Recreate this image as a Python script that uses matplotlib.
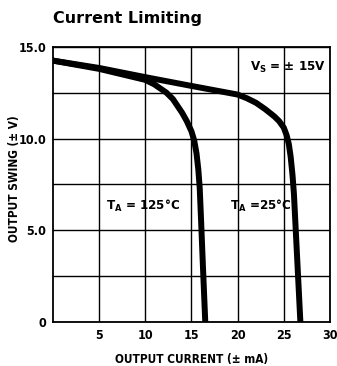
import numpy as np
import matplotlib.pyplot as plt

# curve data
i_125 = [0, 5, 10, 11, 12.3, 13, 14, 14.5, 15, 15.3, 15.55, 15.75, 15.9, 16.05, 16.25, 16.5]
v_125 = [14.25, 13.8, 13.2, 12.95, 12.5, 12.15, 11.4, 10.95, 10.4, 9.9, 9.2, 8.3, 7.3, 5.5, 3.0, 0]

i_25 = [0, 5, 10, 15, 20, 21, 22, 23, 24, 24.5, 25, 25.3, 25.55, 25.75, 25.95, 26.1, 26.3, 26.55, 26.8]
v_25 = [14.25, 13.85, 13.35, 12.87, 12.4, 12.2, 11.95, 11.6, 11.2, 10.95, 10.6, 10.2, 9.7, 9.0, 8.0, 7.0, 5.0, 2.5, 0]

xticks = [5, 10, 15, 20, 25, 30]
yticks = [0, 5, 10, 15]
ytick_labels = ["0", "5.0", "10.0", "15.0"]

cond = dict(family='DejaVu Sans', stretch='condensed', fontweight='bold')

fig = plt.figure(figsize=(3.37, 3.66), dpi=100)
ax = fig.add_axes([0.157, 0.120, 0.822, 0.752])

ax.plot(i_125, v_125, color='black', lw=4.3, solid_joinstyle='round')
ax.plot(i_25, v_25, color='black', lw=4.3, solid_joinstyle='round')

ax.set_xlim(0, 30)
ax.set_ylim(0, 15)
ax.set_xticks(xticks)
ax.set_yticks(yticks)
ax.set_yticklabels(ytick_labels)
ax.set_yticks(np.arange(0, 15, 2.5), minor=True)
ax.grid(True, which='both', color='black', lw=1.0)
ax.tick_params(which='both', length=0, pad=5)
for lab in ax.get_xticklabels() + ax.get_yticklabels():
    lab.set_family('DejaVu Sans')
    lab.set_stretch('condensed')
    lab.set_fontweight('bold')
    lab.set_fontsize(9)
for s in ax.spines.values():
    s.set_linewidth(1.3)

ax.set_xlabel("OUTPUT CURRENT (± mA)", fontsize=8.5, labelpad=8, **cond)
ax.set_ylabel("OUTPUT SWING (± V)", fontsize=8.5, va='center', **cond)
ax.yaxis.set_label_coords(-0.14, 0.52)

ax.text(21.3, 13.9, r"V$_\mathregular{S}$ = ± 15V", fontsize=9.5, va='center', **cond)
ax.text(5.7, 6.35, r"T$_\mathregular{A}$ = 125°C", fontsize=9.5, va='center', **cond)
ax.text(19.2, 6.35, r"T$_\mathregular{A}$ =25°C", fontsize=9.5, va='center', **cond)

fig.text(0.157, 0.95, "Current Limiting", fontsize=11.5, fontweight='bold', va='center')

fig.savefig("out.png", dpi=100)
